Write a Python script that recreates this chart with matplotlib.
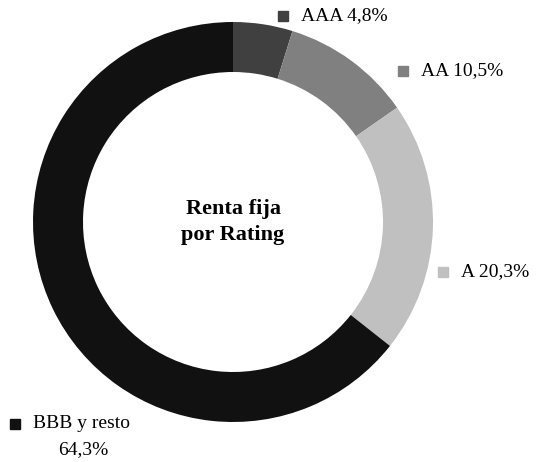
import matplotlib.pyplot as plt
from matplotlib.patches import Rectangle

labels = ["AAA", "AA", "A", "BBB y resto"]
values = [4.8, 10.5, 20.3, 64.3]
value_text = ["4,8%", "10,5%", "20,3%", "64,3%"]
colors = ["#404040", "#808080", "#c0c0c0", "#111111"]

plt.rcParams['font.family'] = ['Liberation Serif', 'DejaVu Serif']

W, H = 538, 462
fig = plt.figure(figsize=(W / 100, H / 100), dpi=100)
ax = fig.add_axes([33 / W, 40 / H, 400 / W, 400 / H])
ax.pie(values, colors=colors, startangle=90, counterclock=False, radius=1.0,
       wedgeprops=dict(width=0.25, edgecolor='none'))
ax.set_xlim(-1, 1)
ax.set_ylim(-1, 1)
ax.set_aspect('equal')
ax.axis('off')

ax.text(0, 0.0, "Renta fija\npor Rating", ha='center', va='center',
        fontsize=16, fontweight='bold', linespacing=1.45)

# legend entries placed in figure pixels
def entry(sx, sy, color, txt):
    fig.patches.append(Rectangle(((sx - 5) / W, 1 - (sy + 5) / H), 10 / W, 10 / H,
                                 transform=fig.transFigure, color=color))
    fig.text((sx + 18) / W, 1 - sy / H, txt, ha='left', va='center', fontsize=14)

entry(283, 16, colors[0], f"{labels[0]} {value_text[0]}")
entry(403, 71, colors[1], f"{labels[1]} {value_text[1]}")
entry(443, 272, colors[2], f"{labels[2]} {value_text[2]}")
entry(15, 424, colors[3], labels[3])
fig.text(83 / W, 1 - 450 / H, value_text[3], ha='center', va='center', fontsize=14)

fig.savefig("out.png", dpi=100, facecolor='white')
